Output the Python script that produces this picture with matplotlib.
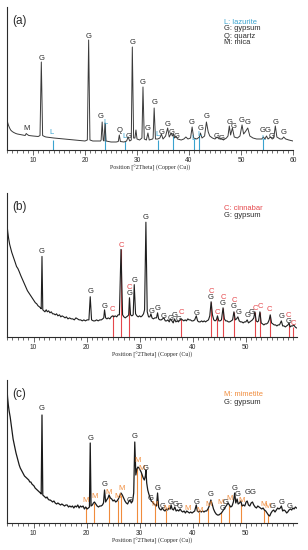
import numpy as np
import matplotlib
matplotlib.use('Agg')
import matplotlib.pyplot as plt
from matplotlib.ticker import MultipleLocator

# diffraction traces (2theta, intensity)
trace_a = [(5.0,30),(5.15,27),(5.3,24.5),(5.5,22),(5.7,20),(6.0,18.5),(6.3,17.5),(6.7,16.5),(7.0,16),(7.5,15.5),
           (8.0,15),(8.5,14.5),(8.7,16.5),(8.9,15.5),(9.2,14.5),(10.0,14),(11.0,13.5),(11.35,14.5),(11.6,88),(11.85,14.5),
           (12.2,13.5),(12.5,13),(13.2,12.5),(14.0,12),(15.0,11.5),(16.0,11),(17.0,10.5),(18.0,10),(19.0,9.5),(20.0,9),
           (20.45,10),(20.7,110),(20.95,10),(21.5,9),(22.0,9),(23.0,9),(23.1,10),(23.3,28),(23.5,10),(23.65,9),
           (23.85,27),(24.05,9),(25.0,8),(26.0,8),(26.4,8.5),(26.6,15),(26.8,8.5),(27.5,8),(28.0,9),(28.3,13),
           (28.6,9),(28.9,10),(29.1,103),(29.35,12),(29.6,12),(29.8,20),(30.0,11),(30.5,10),(30.95,12),(31.15,63),
           (31.4,11),(31.8,10),(32.1,17),(32.35,10),(33.0,11),(33.1,12),(33.3,42),(33.55,11),(34.0,11),(34.4,12),
           (34.7,16),(35.0,11),(35.5,14),(35.9,22),(36.2,13),(36.6,17),(36.8,14),(37.0,16),(37.2,12),(37.5,14),
           (37.8,11),(38.5,10),(39.0,11),(39.4,13),(39.8,11),(40.3,12),(40.6,23),(40.9,12),(41.5,11),(42.0,13),
           (42.2,17),(42.5,12),(43.0,14),(43.35,28),(43.7,18),(44.0,14),(44.5,12),(45.0,11),(45.4,13),(45.8,11),
           (46.2,12),(46.6,10),(47.2,12),(47.5,14),(47.75,24),(48.0,15),(48.35,22),(48.7,13),(49.3,12),(49.8,14),
           (50.2,25),(50.5,16),(50.8,18),(51.3,22),(51.7,14),(52.3,12),(53.0,11),(54.0,11),(54.3,13),(54.6,11),
           (54.9,14),(55.2,11),(55.7,13),(56.0,11),(56.3,12),(56.6,24),(56.9,13),(57.5,11),(57.9,11),(58.2,13),
           (58.6,11),(59.2,10),(60.0,9)]

trace_b = [(5.0,112),(5.15,104),(5.3,98),(5.5,92),(5.7,88),(5.9,84),(6.1,81),(6.3,78),(6.55,74),(6.8,70),
           (7.05,68),(7.3,65),(7.6,61),(7.85,58),(8.1,55),(8.35,52),(8.6,49),(8.85,46),(9.1,44),(9.35,42),
           (9.6,40),(9.85,38),(10.1,36),(10.35,34),(10.6,33),(10.85,31),(11.1,30),(11.3,29),(11.45,28),(11.6,80),
           (11.75,27),(11.95,26),(12.15,25),(12.4,27),(12.6,25),(12.85,26),(13.1,24),(13.35,25),(13.6,23),(13.85,23),
           (14.1,22),(14.35,23),(14.6,21),(14.9,22),(15.15,20),(15.4,21),(15.7,20),(15.95,19),(16.2,20),(16.5,18),
           (16.8,19),(17.1,18),(17.4,18),(17.7,17),(18.0,19),(18.3,18),(18.6,17),(18.9,17),(19.2,16),(19.5,17),
           (19.8,16),(20.1,17),(20.45,17),(20.7,40),(20.95,17),(21.3,16),(21.6,16),(21.9,17),(22.2,16),(22.5,17),
           (22.8,17),(23.05,18),(23.25,19),(23.4,27),(23.6,19),(23.85,18),(24.1,19),(24.4,18),(24.65,20),(24.9,21),
           (25.15,20),(25.4,21),(25.7,20),(25.95,22),(26.2,22),(26.5,87),(26.8,22),(27.05,20),(27.3,19),(27.55,20),
           (27.8,21),(27.95,22),(28.1,39),(28.3,22),(28.55,21),(28.8,22),(29.0,52),(29.25,23),(29.5,21),(29.75,20),
           (30.0,21),(30.25,20),(30.5,21),(30.75,23),(30.95,27),(31.2,114),(31.45,25),(31.7,20),(31.95,20),(32.15,23),
           (32.35,19),(32.6,18),(32.9,19),(33.2,19),(33.4,24),(33.6,18),(33.85,17),(34.1,17),(34.35,18),(34.6,19),
           (34.85,16),(35.1,16),(35.35,17),(35.6,15),(35.85,18),(36.1,16),(36.35,14),(36.6,18),(36.85,15),(37.1,16),
           (37.35,15),(37.6,17),(37.85,18),(38.1,17),(38.35,16),(38.6,17),(38.85,16),(39.1,18),(39.35,17),(39.6,17),
           (39.85,16),(40.1,16),(40.4,17),(40.7,21),(40.95,16),(41.2,15),(41.45,15),(41.7,16),(41.95,15),(42.2,16),
           (42.45,15),(42.7,16),(43.0,17),(43.25,21),(43.5,35),(43.75,22),(44.0,17),(44.25,16),(44.5,17),(44.7,21),
           (44.95,16),(45.2,16),(45.45,17),(45.75,29),(46.0,18),(46.25,16),(46.5,16),(46.75,15),(47.0,15),(47.3,16),
           (47.55,17),(47.8,25),(48.05,17),(48.3,18),(48.55,20),(48.8,16),(49.05,15),(49.3,15),(49.55,14),(49.8,15),
           (50.05,15),(50.3,17),(50.55,14),(50.8,15),(51.05,16),(51.3,17),(51.55,19),(51.75,25),(52.0,16),(52.25,15),
           (52.45,16),(52.7,25),(52.95,14),(53.2,13),(53.45,12),(53.7,13),(53.95,13),(54.2,14),(54.45,17),(54.65,22),
           (54.9,14),(55.15,13),(55.4,12),(55.65,12),(55.9,11),(56.15,12),(56.4,12),(56.75,16),(57.0,11),(57.25,11),
           (57.5,10),(57.75,11),(58.0,12),(58.2,14),(58.4,10),(58.65,11),(58.9,11),(59.1,12),(59.35,10),(59.6,9)]

trace_c = [(5.0,135),(5.1,126),(5.25,118),(5.4,112),(5.6,106),(5.8,98),(6.0,90),(6.15,84),(6.3,80),(6.5,75),
           (6.7,70),(6.9,66),(7.1,62),(7.3,58),(7.5,55),(7.7,53),(7.9,51),(8.1,49),(8.3,47),(8.5,46),
           (8.7,45),(8.9,44),(9.1,43),(9.3,41),(9.5,41),(9.7,39),(9.9,38),(10.1,37),(10.3,35),(10.5,34),
           (10.7,33),(10.9,32),(11.1,31),(11.3,30),(11.45,29),(11.6,108),(11.75,28),(11.95,27),(12.15,26),(12.35,25),
           (12.55,26),(12.75,24),(12.95,23),(13.15,23),(13.4,22),(13.6,21),(13.85,22),(14.1,20),(14.35,19),(14.6,20),
           (14.85,19),(15.1,18),(15.35,19),(15.6,18),(15.85,17),(16.1,18),(16.35,18),(16.6,16),(16.85,17),(17.1,16),
           (17.35,17),(17.6,15),(17.85,17),(18.1,16),(18.35,18),(18.6,15),(18.85,17),(19.1,16),(19.35,17),(19.6,14),
           (19.85,16),(20.1,14),(20.35,15),(20.55,16),(20.7,80),(20.85,17),(21.1,18),(21.3,20),(21.5,21),(21.75,19),
           (22.0,17),(22.25,16),(22.5,17),(22.75,17),(23.0,18),(23.2,20),(23.4,33),(23.6,21),(23.8,23),(24.05,25),
           (24.25,28),(24.5,25),(24.75,24),(25.0,22),(25.25,23),(25.5,21),(25.75,22),(26.0,24),(26.25,27),(26.5,30),
           (26.75,28),(27.0,25),(27.25,22),(27.5,20),(27.75,19),(28.0,22),(28.2,23),(28.45,20),(28.7,22),(28.9,30),
           (29.1,81),(29.3,48),(29.5,54),(29.7,56),(29.9,55),(30.1,53),(30.3,51),(30.5,48),(30.7,45),(30.9,43),
           (31.1,47),(31.2,53),(31.35,40),(31.55,33),(31.75,29),(32.0,25),(32.2,22),(32.45,21),(32.7,19),(32.95,18),
           (33.2,17),(33.4,30),(33.6,16),(33.8,14),(34.05,13),(34.3,15),(34.55,13),(34.8,12),(35.05,14),(35.3,13),
           (35.55,15),(35.8,14),(35.95,18),(36.15,14),(36.4,13),(36.65,16),(36.9,12),(37.15,13),(37.4,12),(37.65,14),
           (37.9,12),(38.15,11),(38.4,12),(38.65,10),(38.9,12),(39.15,11),(39.4,10),(39.65,11),(39.9,10),(40.15,11),
           (40.4,12),(40.7,18),(40.9,12),(41.15,11),(41.4,12),(41.65,11),(41.9,12),(42.15,11),(42.4,12),(42.65,12),
           (42.9,14),(43.15,17),(43.45,23),(43.7,19),(43.95,14),(44.2,11),(44.45,9),(44.7,8),(44.95,8),(45.2,9),
           (45.45,10),(45.7,12),(45.95,14),(46.2,16),(46.45,18),(46.7,20),(46.95,18),(47.2,16),(47.45,17),(47.7,21),
           (47.95,30),(48.15,20),(48.4,24),(48.6,19),(48.85,20),(49.1,22),(49.35,17),(49.6,18),(49.85,17),(50.1,21),
           (50.3,22),(50.55,18),(50.8,17),(51.05,20),(51.3,21),(51.55,18),(51.8,16),(52.05,15),(52.3,17),(52.55,16),
           (52.8,15),(53.05,14),(53.3,15),(53.55,13),(53.8,12),(54.05,10),(54.3,8),(54.55,7),(54.8,10),(55.05,12),
           (55.3,13),(55.55,11),(55.8,13),(56.05,15),(56.3,14),(56.55,15),(56.75,17),(57.0,12),(57.25,13),(57.5,12),
           (57.75,10),(57.95,11),(58.2,13),(58.45,14),(58.7,13),(58.9,15),(59.15,14),(59.4,16),(59.6,15)]

# reference sticks (position, height)
sticks_a = [(13.8,10),(23.9,27),(27.7,9),(34.0,10),(36.9,14),(40.9,11),(42.0,14),(54.3,11)]
sticks_b = [(24.9,22),(26.5,87),(28.1,39),(37.8,18),(43.5,35),(44.7,20),(45.8,29),(47.8,25),
            (51.8,25),(52.7,25),(54.6,22),(58.2,14),(59.0,10)]
sticks_c = [(19.9,16),(21.4,20),(24.2,27),(25.9,23),(26.5,28),(29.6,55),(30.2,50),(32.9,18),(35.0,13),
            (41.3,11),(43.0,15),(45.4,11),(46.9,18),(49.2,20),(53.5,14),(54.2,9)]

# peak labels (position, height, letter)
labels_a = [(8.8,22,'M'),(11.6,92,'G'),(13.6,17,'L'),(20.7,114,'G'),(23.1,33,'G'),(24.0,27,'L'),
            (26.6,20,'Q'),(27.6,13,'L'),(28.4,14,'G'),(29.1,107,'G'),(31.15,67,'G'),(32.1,21,'G'),
            (33.3,47,'G'),(34.0,16,'L'),(34.8,18,'G'),(35.9,25,'G'),(36.6,18,'G'),(37.6,14,'G'),
            (40.6,27,'G'),(40.8,12,'L'),(42.2,22,'G'),(42.0,15,'L'),(43.4,33,'G'),(45.3,13,'G'),
            (46.3,12,'G'),(47.75,27,'G'),(48.5,23,'G'),(50.2,29,'G'),(51.3,27,'G'),(54.3,11,'L'),
            (54.1,19,'G'),(55.1,19,'G'),(55.9,13,'G'),(56.6,27,'G'),(58.2,17,'G')]
labels_b = [(11.6,85,'G'),(20.7,45,'G'),(23.4,30,'G'),(24.8,27,'C'),(26.5,91,'C'),(28.1,49,'C'),
            (28.1,43,'G'),(29.1,56,'G'),(31.2,119,'G'),(32.2,25,'G'),(33.4,28,'G'),(34.5,20,'G'),
            (35.8,18,'G'),(36.6,21,'G'),(37.3,17,'G'),(37.9,24,'C'),(40.7,23,'G'),(43.5,45,'C'),
            (43.5,39,'G'),(44.7,24,'C'),(45.75,39,'C'),(45.75,33,'G'),(47.8,36,'C'),(47.8,30,'G'),
            (48.6,24,'G'),(50.3,21,'G'),(51.1,24,'G'),(51.8,28,'C'),(52.7,30,'C'),(54.5,27,'C'),
            (56.75,20,'G'),(58.1,21,'C'),(58.1,15,'G'),(59.1,13,'C')]
labels_c = [(11.6,114,'G'),(20.7,84,'G'),(19.9,23,'M'),(21.5,27,'M'),(23.4,38,'G'),(24.2,30,'M'),
            (25.9,26,'M'),(26.55,35,'M'),(28.1,23,'G'),(29.1,86,'G'),(29.6,62,'M'),(30.4,54,'M'),
            (31.2,55,'G'),(32.0,24,'G'),(32.8,19,'M'),(33.4,35,'G'),(34.3,16,'G'),(35.1,14,'M'),
            (35.95,20,'G'),(36.75,19,'G'),(37.55,16,'G'),(39.1,15,'M'),(40.7,21,'G'),(41.3,13,'M'),
            (43.0,19,'M'),(43.5,29,'G'),(45.3,21,'M'),(45.6,15,'G'),(46.3,20,'G'),(46.95,24,'M'),
            (47.95,35,'G'),(48.5,28,'G'),(49.2,23,'M'),(50.3,30,'G'),(51.3,30,'G'),(53.4,19,'M'),
            (54.2,16,'M'),(55.1,16,'G'),(56.75,20,'G'),(58.3,16,'G')]

legend_a = ['L: lazurite', 'G: gypsum', 'Q: quartz', 'M: mica']
legend_b = ['C: cinnabar', 'G: gypsum']
legend_c = ['M: mimetite', 'G: gypsum']

BLUE = '#3aa3cf'
RED = '#e5474b'
ORANGE = '#f08c3c'
DARK = '#2b2b2b'
SANS = 'Liberation Sans'

fig = plt.figure(figsize=(3.08, 5.5), dpi=100)

panels = [
    ('(a)', trace_a, sticks_a, labels_a, legend_a, BLUE, 'L', (5, 60), [7, 150, 286, 143], 0.7, '#3a3a3a'),
    ('(b)', trace_b, sticks_b, labels_b, legend_b, RED, 'C', (5, 59.7), [7, 337, 290, 144], 0.8, '#1e1e1e'),
    ('(c)', trace_c, sticks_c, labels_c, legend_c, ORANGE, 'M', (5, 59.7), [7, 523, 290, 143], 0.9, '#1a1a1a'),
]

W, H = 308, 550
for tag, trace, sticks, labels, legend, col, letter, xl, (px, py, pw, ph), lw, lc in panels:
    ax = fig.add_axes([px / W, 1 - py / H, pw / W, ph / H])
    tr = np.array(trace)
    st = np.array(sticks)
    ax.vlines(st[:, 0], 0, st[:, 1], color=col, lw=0.8, zorder=1)
    ax.plot(tr[:, 0], tr[:, 1], color=lc, lw=lw, zorder=2)
    for x, y, t in labels:
        c = col if t == letter else DARK
        ax.text(x, y, t, ha='center', va='center', fontsize=5.5, color=c, family=SANS, zorder=3)
    lx = xl[0] + (224 - px) / pw * (xl[1] - xl[0])
    for i, s in enumerate(legend):
        ax.text(lx, 128 - i * 7, s, ha='left', va='center', fontsize=5.4,
                color=col if i == 0 else DARK, family=SANS)
    ax.text(0.018, 0.905, tag, transform=ax.transAxes, ha='left', va='center',
            fontsize=8.5, color=DARK, family=SANS)
    ax.set_xlim(*xl)
    ax.set_ylim(0, 143)
    for s in ['top', 'right']:
        ax.spines[s].set_visible(False)
    for s in ['left', 'bottom']:
        ax.spines[s].set_linewidth(0.8)
        ax.spines[s].set_color(DARK)
    ax.set_yticks([])
    ax.xaxis.set_major_locator(MultipleLocator(10))
    ax.xaxis.set_minor_locator(MultipleLocator(1))
    ax.tick_params(axis='x', which='major', length=3.5, width=0.5, pad=1.5, labelsize=4.8, colors=DARK)
    ax.tick_params(axis='x', which='minor', length=2, width=0.4)
    for lab in ax.get_xticklabels():
        lab.set_family(SANS)
    ax.set_xlabel('Position [°2Theta] (Copper (Cu))', fontsize=4.3, family='Liberation Serif',
                  labelpad=1, color=DARK)
    ax.patch.set_alpha(0)

fig.savefig('out.png', dpi=100)
